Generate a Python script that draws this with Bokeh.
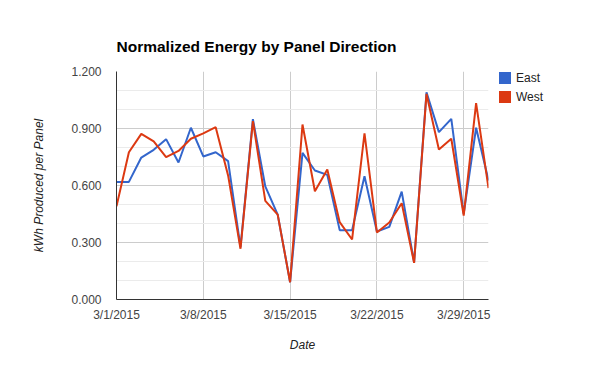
import pandas as pd
from datetime import datetime
from bokeh.plotting import figure
from bokeh.models import (Range1d, FixedTicker, PrintfTickFormatter, Legend, LegendItem,
                          ColumnDataSource)
from bokeh.embed import file_html
from bokeh.resources import INLINE

# ---- data ----
dates = pd.date_range("2015-03-01", "2015-03-31", freq="D")
east = [0.619, 0.619, 0.747, 0.788, 0.844, 0.721, 0.904, 0.753, 0.775, 0.728, 0.275,
        0.949, 0.595, 0.447, 0.091, 0.772, 0.679, 0.656, 0.365, 0.365, 0.649, 0.358,
        0.382, 0.568, 0.195, 1.091, 0.881, 0.951, 0.451, 0.904, 0.626]
west = [0.491, 0.775, 0.872, 0.832, 0.749, 0.782, 0.846, 0.874, 0.907, 0.653, 0.267,
        0.939, 0.519, 0.447, 0.091, 0.921, 0.570, 0.684, 0.407, 0.316, 0.875, 0.353,
        0.405, 0.507, 0.193, 1.082, 0.789, 0.846, 0.442, 1.033, 0.586]
x_tick_dates = ["2015-03-01", "2015-03-08", "2015-03-15", "2015-03-22", "2015-03-29"]
x_tick_labels = ["3/1/2015", "3/8/2015", "3/15/2015", "3/22/2015", "3/29/2015"]
y_ticks = [0.0, 0.3, 0.6, 0.9, 1.2]
y_minor = [0.1, 0.2, 0.4, 0.5, 0.7, 0.8, 1.0, 1.1]
series_names = ["East", "West"]
colors = ["#3366cc", "#dc3912"]

FONT = "Liberation Sans"

p = figure(frame_width=372, frame_height=228, x_axis_type="datetime", output_backend="svg",
           toolbar_location=None,
           x_range=Range1d(datetime(2015, 3, 1), datetime(2015, 3, 31)),
           y_range=Range1d(0, 1.2),
           min_border_left=116, min_border_right=104, min_border_top=71,
           min_border_bottom=64)
p.outline_line_color = None
p.background_fill_color = "white"
p.border_fill_color = "white"

# title
p.title.text = "Normalized Energy by Panel Direction"
p.title.text_font = FONT
p.title.text_font_size = "15.5px"
p.title.text_font_style = "bold"
p.title.text_color = "#000000"
p.title.align = "left"
p.title.offset = 0
p.title.standoff = 34

src = ColumnDataSource(dict(date=dates, east=east, west=west))
p.line("date", "east", source=src, line_color=colors[0], line_width=2)
p.line("date", "west", source=src, line_color=colors[1], line_width=2)

# x axis
tick_ms = [pd.Timestamp(d).value / 1e6 for d in x_tick_dates]
p.xaxis.ticker = FixedTicker(ticks=tick_ms)
p.xaxis.major_label_overrides = {t: lab for t, lab in zip(tick_ms, x_tick_labels)}
p.xaxis.axis_label = "Date"
p.xaxis.axis_label_text_font_style = "italic"
p.xaxis.axis_label_text_font = FONT
p.xaxis.axis_label_text_font_size = "12px"
p.xaxis.axis_label_text_color = "#222222"
p.xaxis.axis_label_standoff = 13
p.xaxis.major_label_standoff = 8

# y axis
p.yaxis.ticker = FixedTicker(ticks=y_ticks, minor_ticks=y_minor)
p.yaxis.formatter = PrintfTickFormatter(format="%.3f")
p.yaxis.axis_label = "kWh Produced per Panel"
p.yaxis.axis_label_text_font_style = "italic"
p.yaxis.axis_label_text_font = FONT
p.yaxis.axis_label_text_font_size = "12px"
p.yaxis.axis_label_text_color = "#222222"
p.yaxis.axis_label_standoff = 22
p.yaxis.major_label_standoff = 11

for ax in (p.xaxis, p.yaxis):
    ax.major_label_text_font = FONT
    ax.major_label_text_font_size = "12px"
    ax.major_label_text_color = "#444444"
    ax.major_tick_line_color = None
    ax.minor_tick_line_color = None
    ax.major_tick_out = 0
    ax.major_tick_in = 0
    ax.axis_line_color = "#333333"

p.xgrid.grid_line_color = "#cccccc"
p.ygrid.grid_line_color = "#cccccc"
p.ygrid.minor_grid_line_color = "#ebebeb"

# legend swatches (no visible data, used only for legend)
nan = float("nan")
sw = []
for c in colors:
    s = ColumnDataSource(dict(l=[nan], r=[nan], t=[nan], b=[nan]))
    r = p.quad(left="l", right="r", top="t", bottom="b", source=s,
               fill_color=c, line_color=None)
    sw.append(r)
legend = Legend(items=[LegendItem(label=n, renderers=[r]) for n, r in zip(series_names, sw)],
                location=(9, 195), padding=0, margin=0, spacing=4,
                glyph_width=15, glyph_height=15, label_height=15, label_standoff=4,
                label_text_font=FONT, label_text_font_size="12px",
                label_text_color="#222222", border_line_alpha=0,
                background_fill_alpha=0)
p.add_layout(legend, "right")

open("out.html", "w").write(file_html(p, INLINE))
